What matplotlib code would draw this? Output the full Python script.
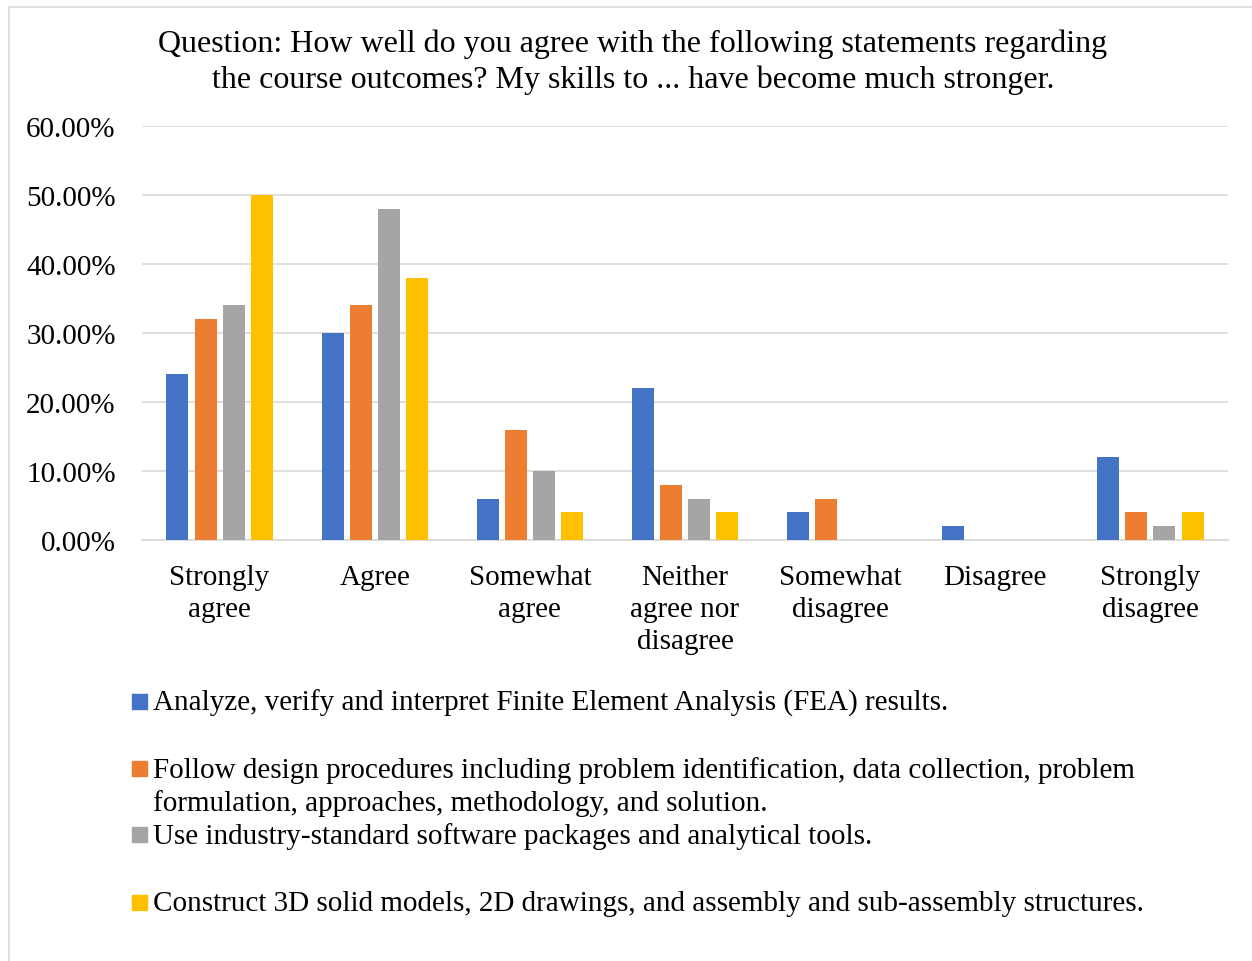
import matplotlib.pyplot as plt
import numpy as np
from matplotlib.patches import Rectangle

plt.rcParams['font.family'] = ['Liberation Serif', 'DejaVu Serif']

categories = ['Strongly\nagree', 'Agree', 'Somewhat\nagree', 'Neither\nagree nor\ndisagree',
              'Somewhat\ndisagree', 'Disagree', 'Strongly\ndisagree']
series_names = [
    'Analyze, verify and interpret Finite Element Analysis (FEA) results.',
    'Follow design procedures including problem identification, data collection, problem\nformulation, approaches, methodology, and solution.',
    'Use industry-standard software packages and analytical tools.',
    'Construct 3D solid models, 2D drawings, and assembly and sub-assembly structures.',
]
fea = [24, 30, 6, 22, 4, 2, 12]
design = [32, 34, 16, 8, 6, 0, 4]
software = [34, 48, 10, 6, 0, 0, 2]
modeling = [50, 38, 4, 4, 0, 0, 4]
colors = ['#4472c4', '#ed7d31', '#a5a5a5', '#ffc000']
yticks = [0, 10, 20, 30, 40, 50, 60]

W, H = 1252, 962
fig = plt.figure(figsize=(W / 100, H / 100), dpi=100)
ax = fig.add_axes([142 / W, 1 - 541 / H, (1228 - 142) / W, (541 - 127) / H])

# outer chart frame
fig.patches.append(Rectangle((9 / W, -0.01), 1.02, 1 - 8 / H + 0.01, transform=fig.transFigure,
                             fill=False, edgecolor='#d9d9d9', linewidth=1.2))

x = np.arange(len(categories))
width = 0.142
step = 0.181
for i, (vals, c) in enumerate(zip([fea, design, software, modeling], colors)):
    ax.bar(x + (i - 1.5) * step, vals, width, color=c, zorder=3)

ax.set_xlim(-0.5, len(categories) - 0.5)
ax.set_ylim(0, 60)
ax.set_yticks(yticks)
ax.set_yticklabels([f'{v:.2f}%' for v in yticks], fontsize=21)
ax.set_xticks(x)
ax.set_xticklabels(categories, fontsize=21, linespacing=1.3, va='top')
ax.tick_params(axis='x', length=0, pad=17)
ax.tick_params(axis='y', length=0, pad=19)
ax.grid(axis='y', color='#d9d9d9', linewidth=1.2, zorder=0)
for s in ['top', 'right', 'left']:
    ax.spines[s].set_visible(False)
ax.spines['bottom'].set_color('#d9d9d9')
ax.spines['bottom'].set_linewidth(1.2)

fig.text(633 / W, 1 - 62 / H, 'Question: How well do you agree with the following statements regarding\n'
         'the course outcomes? My skills to ... have become much stronger.',
         ha='center', va='center', fontsize=23, linespacing=1.3)

# legend entries
legend_y = [702, 769, 835, 903]
for name, c, yy in zip(series_names, colors, legend_y):
    fig.patches.append(Rectangle((132 / W, 1 - (yy + 8) / H), 15 / W, 15 / H,
                                 transform=fig.transFigure, color=c))
    fig.text(153 / W, 1 - (yy - 12) / H, name, ha='left', va='top', fontsize=21, linespacing=1.3)

fig.savefig('out.png', dpi=100)
